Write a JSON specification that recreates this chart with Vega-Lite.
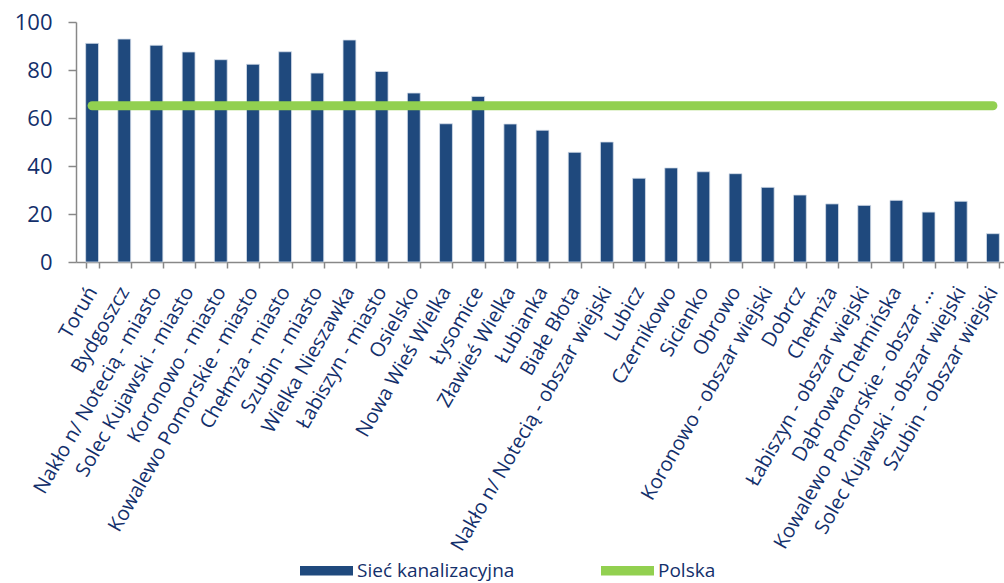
{
  "$schema": "https://vega.github.io/schema/vega-lite/v6.json",
  "width": 924,
  "height": 240,
  "autosize": {"type": "none"},
  "padding": {"left": 76, "top": 22, "right": 4, "bottom": 321},
  "background": "white",
  "config": {
    "view": {"stroke": null},
    "font": "Open Sans"
  },
  "data": {
    "values": [
      {"gmina": "Toruń", "siec": 91.1, "polska": 65.1},
      {"gmina": "Bydgoszcz", "siec": 92.9, "polska": 65.1},
      {"gmina": "Nakło n/ Notecią - miasto", "siec": 90.3, "polska": 65.1},
      {"gmina": "Solec Kujawski - miasto", "siec": 87.5, "polska": 65.1},
      {"gmina": "Koronowo - miasto", "siec": 84.3, "polska": 65.1},
      {"gmina": "Kowalewo Pomorskie - miasto", "siec": 82.4, "polska": 65.1},
      {"gmina": "Chełmża - miasto", "siec": 87.6, "polska": 65.1},
      {"gmina": "Szubin - miasto", "siec": 78.7, "polska": 65.1},
      {"gmina": "Wielka Nieszawka", "siec": 92.5, "polska": 65.1},
      {"gmina": "Łabiszyn - miasto", "siec": 79.4, "polska": 65.1},
      {"gmina": "Osielsko", "siec": 70.4, "polska": 65.1},
      {"gmina": "Nowa Wieś Wielka", "siec": 57.6, "polska": 65.1},
      {"gmina": "Łysomice", "siec": 69.0, "polska": 65.1},
      {"gmina": "Zławieś Wielka", "siec": 57.5, "polska": 65.1},
      {"gmina": "Łubianka", "siec": 54.9, "polska": 65.1},
      {"gmina": "Białe Błota", "siec": 45.7, "polska": 65.1},
      {"gmina": "Nakło n/ Notecią - obszar wiejski", "siec": 50.0, "polska": 65.1},
      {"gmina": "Lubicz", "siec": 34.9, "polska": 65.1},
      {"gmina": "Czernikowo", "siec": 39.2, "polska": 65.1},
      {"gmina": "Sicienko", "siec": 37.6, "polska": 65.1},
      {"gmina": "Obrowo", "siec": 36.8, "polska": 65.1},
      {"gmina": "Koronowo - obszar wiejski", "siec": 31.1, "polska": 65.1},
      {"gmina": "Dobrcz", "siec": 27.9, "polska": 65.1},
      {"gmina": "Chełmża", "siec": 24.2, "polska": 65.1},
      {"gmina": "Łabiszyn - obszar wiejski", "siec": 23.6, "polska": 65.1},
      {"gmina": "Dąbrowa Chełmińska", "siec": 25.7, "polska": 65.1},
      {"gmina": "Kowalewo Pomorskie - obszar wiejski", "siec": 20.8, "polska": 65.1},
      {"gmina": "Solec Kujawski - obszar wiejski", "siec": 25.3, "polska": 65.1},
      {"gmina": "Szubin - obszar wiejski", "siec": 11.8, "polska": 65.1}
    ]
  },
  "encoding": {
    "x": {
      "field": "gmina",
      "type": "nominal",
      "sort": null,
      "title": null,
      "scale": {"paddingInner": 0.6, "paddingOuter": 0.3, "range": [0, 933]},
      "axis": {
        "labelAngle": -60,
        "labelFontSize": 20,
        "labelColor": "#132F6B",
        "labelPadding": 20,
        "labelOffset": 0,
        "labelLimit": 400,
        "labelExpr": "datum.label == 'Kowalewo Pomorskie - obszar wiejski' ? 'Kowalewo Pomorskie - obszar …' : datum.label",
        "tickBand": "extent",
        "tickSize": 6,
        "tickColor": "#888888",
        "tickWidth": 1.5,
        "domainColor": "#888888",
        "domainWidth": 1.5
      }
    }
  },
  "layer": [
    {
      "mark": {"type": "bar", "fill": "#1F497D", "stroke": "#d6deea", "strokeWidth": 0.8},
      "encoding": {
        "y": {
          "field": "siec",
          "type": "quantitative",
          "title": null,
          "scale": {"domain": [0, 100]},
          "axis": {
            "values": [0, 20, 40, 60, 80, 100],
            "grid": false,
            "labelFontSize": 22,
            "labelColor": "#132F6B",
            "labelPadding": 16,
            "tickSize": 8,
            "tickColor": "#888888",
            "tickWidth": 1.5,
            "domainColor": "#888888",
            "domainWidth": 1.5
          }
        },
        "color": {
          "datum": "Sieć kanalizacyjna",
          "type": "nominal",
          "scale": {"domain": ["Sieć kanalizacyjna", "Polska"], "range": ["#1F497D", "#92D050"]},
          "legend": {
            "title": null,
            "orient": "none",
            "legendX": 224,
            "legendY": 522,
            "direction": "horizontal",
            "symbolSize": 2809,
            "symbolType": "M-1,-0.18H1V0.18H-1Z",
            "symbolStrokeWidth": 0,
            "symbolOpacity": 1,
            "labelFontSize": 19,
            "labelColor": "#132F6B",
            "labelOffset": 4,
            "columnPadding": 86,
            "labelLimit": 300
          }
        }
      }
    },
    {
      "mark": {"type": "line", "stroke": "#92D050", "strokeWidth": 9, "strokeCap": "round"},
      "encoding": {
        "y": {"field": "polska", "type": "quantitative"},
        "color": {"datum": "Polska", "type": "nominal"}
      }
    }
  ]
}
